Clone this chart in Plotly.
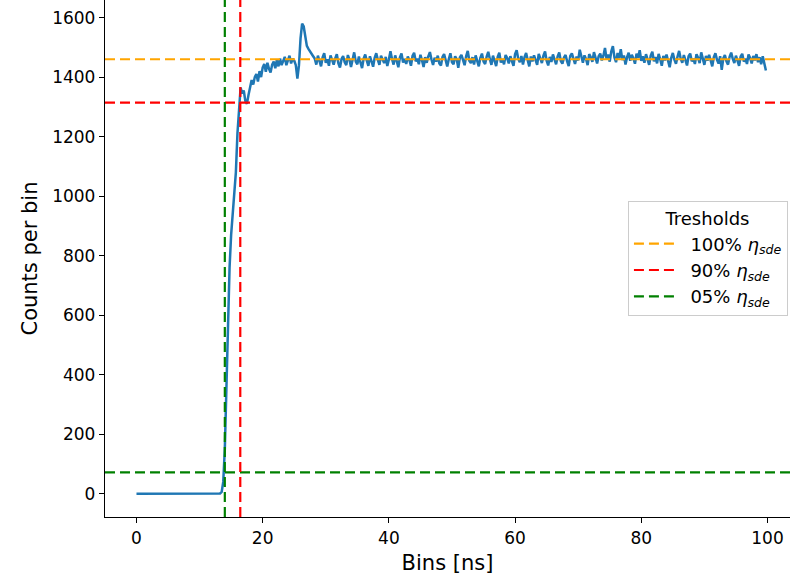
import numpy as np
import plotly.graph_objects as go

# ---------------- data ----------------
bin_width = 0.25  # ns

baseline = [0] * 53  # bins 0.00 .. 13.00 ns, read as flat zero

rise = [1, 6, 40, 150, 360, 560, 760, 870, 950, 1010, 1080, 1210,
        1300, 1365, 1345, 1355, 1320, 1310, 1340, 1365, 1390, 1375, 1400, 1410,
        1385, 1420, 1400, 1432, 1444, 1418, 1448, 1428, 1415, 1442, 1452, 1430,
        1458, 1436, 1462, 1440, 1452, 1468, 1440, 1458, 1472, 1446, 1462, 1455,
        1440, 1395, 1440, 1530, 1580, 1570, 1530, 1505, 1495, 1485, 1475, 1470]

plateau = [
    1462, 1442, 1472, 1455, 1436, 1466, 1480, 1448, 1460, 1438, 1473, 1458, 1442, 1463, 1477, 1446, 1432, 1461, 1471, 1450,
    1440, 1474, 1459, 1434, 1465, 1483, 1452, 1443, 1469, 1447, 1430, 1462, 1476, 1455, 1438, 1470, 1451, 1435, 1465, 1480,
    1458, 1441, 1472, 1462, 1447, 1468, 1437, 1459, 1487, 1460, 1442, 1473, 1452, 1433, 1466, 1479, 1449, 1461, 1444, 1469,
    1457, 1438, 1471, 1482, 1453, 1462, 1443, 1475, 1456, 1434, 1467, 1448, 1470, 1484, 1459, 1441, 1465, 1452, 1472, 1446,
    1439, 1468, 1477, 1456, 1436, 1461, 1480, 1450, 1443, 1470, 1460, 1431, 1466, 1475, 1453, 1440, 1471, 1488, 1455, 1447,
    1467, 1442, 1473, 1458, 1436, 1465, 1479, 1452, 1444, 1469, 1485, 1461, 1441, 1472, 1456, 1437, 1468, 1482, 1449, 1460,
    1443, 1474, 1464, 1446, 1470, 1455, 1438, 1477, 1490, 1462, 1450, 1471, 1442, 1467, 1481, 1457, 1436, 1469, 1453, 1473,
    1460, 1441, 1478, 1464, 1447, 1472, 1486, 1455, 1439, 1468, 1451, 1476, 1461, 1443, 1470, 1483, 1454, 1445, 1466, 1474,
    1453, 1437, 1471, 1480, 1462, 1444, 1469, 1456, 1492, 1466, 1448, 1473, 1460, 1440, 1477, 1467, 1451, 1484, 1463, 1446,
    1470, 1479, 1456, 1472, 1498, 1460, 1476, 1452, 1487, 1504, 1466, 1450, 1481, 1463, 1494, 1457, 1473, 1442, 1467, 1482,
    1455, 1475, 1463, 1445, 1479, 1465, 1490, 1455, 1470, 1448, 1477, 1462, 1441, 1472, 1485, 1453, 1467, 1446, 1478, 1460,
    1438, 1471, 1456, 1476, 1452, 1433, 1465, 1481, 1459, 1445, 1469, 1488, 1462, 1448, 1474, 1457, 1439, 1470, 1479, 1453,
    1462, 1444, 1477, 1465, 1447, 1483, 1460, 1441, 1471, 1455, 1475, 1451, 1436, 1467, 1480, 1458, 1446, 1470, 1424, 1463,
    1474, 1453, 1442, 1468, 1482, 1461, 1447, 1472, 1455, 1438, 1469, 1478, 1452, 1462, 1444, 1476, 1464, 1446, 1471, 1456,
    1477, 1450, 1467, 1443, 1470, 1440, 1422,
]

counts = baseline + rise + plateau
bins_ns = np.arange(len(counts)) * bin_width

# thresholds
level_labels = ["&nbsp;&nbsp;100% <i>η<sub>sde</sub></i>",
                "&nbsp;&nbsp;90% <i>η<sub>sde</sub></i>",
                "&nbsp;&nbsp;05% <i>η<sub>sde</sub></i>"]
level_values = [1460, 1314, 72]
level_colors = ["orange", "red", "green"]
crossing_times = [16.45, 14.0]       # red (90%), green (05%)
crossing_colors = ["red", "green"]

x_range = [-4.99, 103.57]
y_range = [-78, 1659]

# ---------------- figure ----------------
FONT = "DejaVu Sans"
fig = go.Figure()

fig.add_trace(go.Scatter(x=bins_ns, y=counts, mode="lines",
                         line=dict(color="#1f77b4", width=2.5),
                         showlegend=False, hoverinfo="skip"))

for lab, val, col in zip(level_labels, level_values, level_colors):
    fig.add_trace(go.Scatter(x=x_range, y=[val, val], mode="lines", name=lab,
                             line=dict(color=col, width=2.2, dash="10px,5px")))

for t, col in zip(crossing_times, crossing_colors):
    fig.add_trace(go.Scatter(x=[t, t], y=y_range, mode="lines", showlegend=False,
                             line=dict(color=col, width=2.2, dash="10px,5px")))

axis_common = dict(showline=True, linecolor="black", linewidth=1.3, mirror=False,
                   ticks="outside", ticklen=5, tickwidth=1.3, tickcolor="black",
                   showgrid=False, zeroline=False,
                   tickfont=dict(family=FONT, size=17, color="black"))

fig.update_xaxes(range=x_range, tickvals=[0, 20, 40, 60, 80, 100],
                 title=dict(text="Bins [ns]", font=dict(family=FONT, size=21, color="black"), standoff=8),
                 **axis_common)
fig.update_yaxes(range=y_range, tickvals=[0, 200, 400, 600, 800, 1000, 1200, 1400, 1600],
                 title=dict(text="Counts per bin", font=dict(family=FONT, size=21, color="black"), standoff=8),
                 **axis_common)

fig.update_layout(
    width=790, height=587,
    margin=dict(l=105, r=0, t=0, b=70),
    plot_bgcolor="white", paper_bgcolor="white",
    font=dict(family=FONT, color="black"),
    legend=dict(title=dict(text="Tresholds", side="top center",
                           font=dict(family=FONT, size=18, color="black")),
                font=dict(family=FONT, size=18, color="black"),
                x=0.997, xanchor="right", y=0.5, yanchor="middle",
                bgcolor="white", bordercolor="#cccccc", borderwidth=1,
                itemwidth=40, tracegroupgap=0),
)

fig.write_html("out.html")
